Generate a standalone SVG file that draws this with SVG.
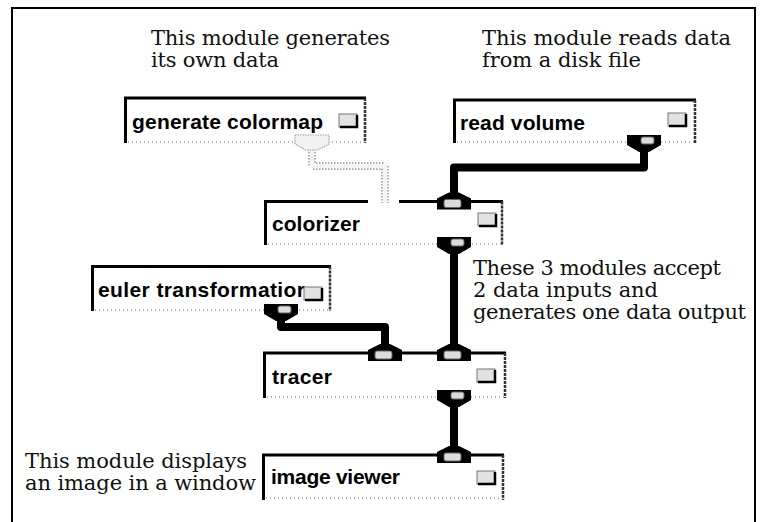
<svg xmlns="http://www.w3.org/2000/svg" xmlns:xlink="http://www.w3.org/1999/xlink" width="765" height="522" viewBox="0 0 765 522">
  <style>
    .frame { fill: none; stroke: #000; stroke-width: 2; }
    .note { font-family: "DejaVu Serif", "Liberation Serif", serif; font-size: 21px; fill: #111; }
    .label { font-family: "Liberation Sans", Arial, sans-serif; font-weight: bold; font-size: 21px; fill: #000; }
    .top { stroke: #000; stroke-width: 3; }
    .left { stroke: #000; stroke-width: 3; }
    .right { stroke: #333; stroke-width: 2.5; stroke-dasharray: 3 1; }
    .bottom { stroke: #9a9a9a; stroke-width: 1.5; stroke-dasharray: 1 3; }
    .wire { fill: none; stroke: #000; stroke-width: 8; stroke-linejoin: round; }
    .wire-off-edge { fill: none; stroke: #a8a8a8; stroke-width: 8; stroke-dasharray: 1.5 1.5; stroke-linejoin: round; }
    .wire-off-core { fill: none; stroke: #f4f4f4; stroke-width: 4.5; stroke-linejoin: round; }
    .port { fill: #000; }
    .port-off { fill: #f2f2f2; stroke: #a0a0a0; stroke-width: 1.2; stroke-dasharray: 1.5 1; }
    .plug { fill: #dcdcdc; stroke: #666; stroke-width: 1; }
    .icon { fill: #e2e2e2; stroke: #777; stroke-width: 1; }
    .icon-edge { fill: none; stroke: #000; stroke-width: 2.5; }
  </style>
  <defs>
    <!-- input port: neck on top, body sitting on the module's top edge -->
    <g id="in-port">
      <path class="port" d="M-5,-9 H5 L17,-3 V8 H-17 V-3 Z"/>
      <rect class="plug" x="-10" y="-2" width="17" height="8" rx="2"/>
    </g>
    <!-- output port: body under the module's bottom edge, neck below -->
    <g id="out-port">
      <path class="port" d="M-17,-8 H17 V2 L5,9 H-5 L-17,2 Z"/>
      <rect class="plug" x="-3" y="-6" width="13" height="7" rx="2"/>
    </g>
    <!-- status button at the right of each module -->
    <g id="button">
      <rect class="icon" x="0" y="0" width="18" height="13"/>
      <path class="icon-edge" d="M1,13 H18 V1"/>
    </g>
  </defs>

  <rect width="765" height="522" fill="#fff"/>

  <!-- outer frame -->
  <path class="frame" d="M12,530 V8 H755 V530"/>

  <!-- notes -->
  <g id="notes">
    <text class="note" x="151" y="45" textLength="239" lengthAdjust="spacing">This module generates</text>
    <text class="note" x="151" y="67" textLength="128" lengthAdjust="spacing">its own data</text>
    <text class="note" x="482" y="45" textLength="249" lengthAdjust="spacing">This module reads data</text>
    <text class="note" x="482" y="67" textLength="159" lengthAdjust="spacing">from a disk file</text>
    <text class="note" x="473" y="275" textLength="248" lengthAdjust="spacing">These 3 modules accept</text>
    <text class="note" x="473" y="297" textLength="185" lengthAdjust="spacing">2 data inputs and</text>
    <text class="note" x="473" y="319" textLength="273" lengthAdjust="spacing">generates one data output</text>
    <text class="note" x="25" y="468" textLength="222" lengthAdjust="spacing">This module displays</text>
    <text class="note" x="25" y="490" textLength="231" lengthAdjust="spacing">an image in a window</text>
  </g>

  <!-- connectors -->
  <g id="connectors">
    <path class="wire-off-edge" d="M312,146 V166 H385 V203"/>
    <path class="wire-off-core" d="M312,146 V166 H385 V203"/>
    <path class="wire" d="M644,146 V167.5 H454 V196"/>
    <path class="wire" d="M454,245 V346"/>
    <path class="wire" d="M281,316 V327 H385 V346"/>
    <path class="wire" d="M454,398 V448"/>
  </g>

  <!-- modules -->
  <g id="generate-colormap">
    <line class="top" x1="124" y1="98" x2="366" y2="98"/>
    <line class="left" x1="125.5" y1="98" x2="125.5" y2="143"/>
    <line class="right" x1="365" y1="98" x2="365" y2="143"/>
    <line class="bottom" x1="128" y1="142" x2="365" y2="142"/>
    <text class="label" x="132" y="129" textLength="191" lengthAdjust="spacing">generate colormap</text>
    <use xlink:href="#button" x="339" y="114"/>
    <path class="port-off" d="M295,135 H329 V144 L318,150 H306 L295,144 Z"/>
  </g>

  <g id="read-volume">
    <line class="top" x1="453" y1="100" x2="696" y2="100"/>
    <line class="left" x1="454.5" y1="100" x2="454.5" y2="143"/>
    <line class="right" x1="695" y1="100" x2="695" y2="143"/>
    <line class="bottom" x1="457" y1="142" x2="695" y2="142"/>
    <text class="label" x="460" y="130" textLength="125" lengthAdjust="spacing">read volume</text>
    <use xlink:href="#button" x="668" y="113"/>
    <use xlink:href="#out-port" x="644" y="143"/>
  </g>

  <g id="colorizer">
    <line class="top" x1="264" y1="201.5" x2="368" y2="201.5"/>
    <line class="top" x1="399" y1="201.5" x2="503" y2="201.5"/>
    <line class="left" x1="265.5" y1="201.5" x2="265.5" y2="245"/>
    <line class="right" x1="502" y1="201.5" x2="502" y2="245"/>
    <line class="bottom" x1="268" y1="244" x2="502" y2="244"/>
    <text class="label" x="272" y="231" textLength="88" lengthAdjust="spacing">colorizer</text>
    <use xlink:href="#button" x="478" y="213"/>
    <use xlink:href="#in-port" x="454" y="201.5"/>
    <use xlink:href="#out-port" x="454" y="245"/>
  </g>

  <g id="euler-transformation">
    <line class="top" x1="91" y1="266.5" x2="331" y2="266.5"/>
    <line class="left" x1="92.5" y1="266.5" x2="92.5" y2="311"/>
    <line class="right" x1="330" y1="266.5" x2="330" y2="311"/>
    <line class="bottom" x1="95" y1="310" x2="330" y2="310"/>
    <text class="label" x="98" y="297" textLength="207" lengthAdjust="spacing">euler transformatior</text>
    <use xlink:href="#button" x="304" y="287"/>
    <use xlink:href="#out-port" x="281" y="312"/>
  </g>

  <g id="tracer">
    <line class="top" x1="263" y1="353" x2="506" y2="353"/>
    <line class="left" x1="264.5" y1="353" x2="264.5" y2="398"/>
    <line class="right" x1="505" y1="353" x2="505" y2="398"/>
    <line class="bottom" x1="267" y1="397" x2="505" y2="397"/>
    <text class="label" x="272" y="384" textLength="60" lengthAdjust="spacing">tracer</text>
    <use xlink:href="#button" x="477" y="369"/>
    <use xlink:href="#in-port" x="385" y="353"/>
    <use xlink:href="#in-port" x="454" y="353"/>
    <use xlink:href="#out-port" x="454" y="398"/>
  </g>

  <g id="image-viewer">
    <line class="top" x1="262" y1="455" x2="504" y2="455"/>
    <line class="left" x1="263.5" y1="455" x2="263.5" y2="500"/>
    <line class="right" x1="503" y1="455" x2="503" y2="500"/>
    <line class="bottom" x1="266" y1="498" x2="503" y2="498"/>
    <text class="label" x="271" y="484" textLength="129" lengthAdjust="spacing">image viewer</text>
    <use xlink:href="#button" x="477" y="471"/>
    <use xlink:href="#in-port" x="454" y="455"/>
  </g>
</svg>
